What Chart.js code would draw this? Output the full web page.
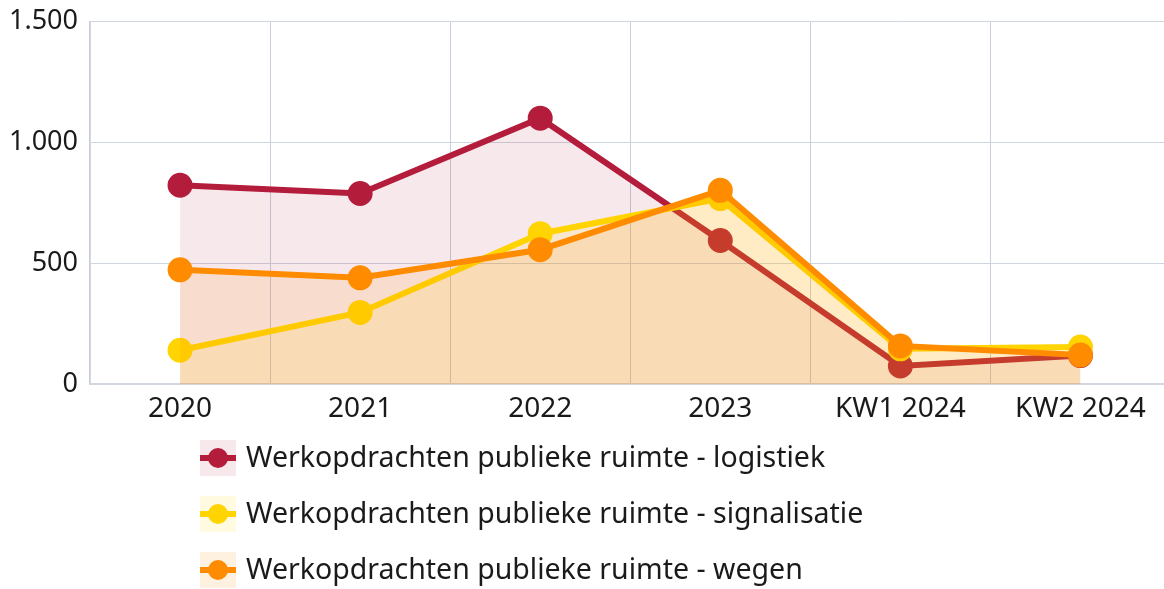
<!DOCTYPE html>
<html lang="nl">
<head>
<meta charset="utf-8">
<title>Werkopdrachten publieke ruimte</title>
<script src="https://cdn.jsdelivr.net/npm/chart.js@4/dist/chart.umd.min.js"></script>
<style>
    html, body { margin: 0; padding: 0; background: #fff; overflow: hidden; }
    canvas { display: block; }
</style>
</head>
<body>
<canvas id="myChart" width="1186" height="589"></canvas>
<script>
const categories = ['2020', '2021', '2022', '2023', 'KW1 2024', 'KW2 2024'];
const logistiek = [822, 788, 1099, 594, 76, 119];
const signalisatie = [141, 297, 622, 767, 147, 154];
const wegen = [473, 440, 556, 801, 159, 121];
const yTicks = [0, 500, 1000, 1500];

const seriesNames = [
    'Werkopdrachten publieke ruimte - logistiek',
    'Werkopdrachten publieke ruimte - signalisatie',
    'Werkopdrachten publieke ruimte - wegen'
];

const FONT = "'Noto Sans', 'Open Sans', sans-serif";

// dot as thousands separator, like 1.500
function formatNumber(v) {
    return String(v).replace(/\B(?=(\d{3})+(?!\d))/g, '.');
}

function makeDataset(label, data, color, fill, order) {
    return {
        label: label,
        data: data,
        borderColor: color,
        backgroundColor: fill,
        pointBackgroundColor: color,
        pointBorderColor: color,
        borderWidth: 6,
        pointRadius: 9.5,
        pointHoverRadius: 9.5,
        tension: 0,
        fill: 'origin',
        order: order
    };
}

// legend drawn under the plot, one series per row
const sideLegend = {
    id: 'sideLegend',
    afterDraw(chart) {
        const ctx = chart.ctx;
        const x0 = 200;
        const rows = [458, 514, 570];
        ctx.save();
        chart.data.datasets.forEach((ds, i) => {
            const y = rows[i];
            ctx.fillStyle = ds.backgroundColor;
            ctx.fillRect(x0, y - 18, 36, 36);
            ctx.strokeStyle = ds.borderColor;
            ctx.lineWidth = 6;
            ctx.beginPath();
            ctx.moveTo(x0, y);
            ctx.lineTo(x0 + 36, y);
            ctx.stroke();
            ctx.fillStyle = ds.borderColor;
            ctx.beginPath();
            ctx.arc(x0 + 18, y, 10, 0, Math.PI * 2);
            ctx.fill();
            ctx.fillStyle = '#1a1a1a';
            ctx.font = '28.5px ' + FONT;
            ctx.textBaseline = 'middle';
            ctx.textAlign = 'left';
            ctx.fillText(ds.label, x0 + 46, y + 1);
        });
        ctx.restore();
    }
};

const ctx = document.getElementById('myChart').getContext('2d');
new Chart(ctx, {
    type: 'line',
    data: {
        labels: categories,
        datasets: [
            makeDataset(seriesNames[0], logistiek, '#b41c3c', 'rgba(180, 28, 60, 0.1)', 2),
            makeDataset(seriesNames[1], signalisatie, '#ffd400', 'rgba(255, 212, 0, 0.12)', 1),
            makeDataset(seriesNames[2], wegen, '#ff8c00', 'rgba(255, 140, 0, 0.12)', 0)
        ]
    },
    options: {
        responsive: false,
        animation: false,
        layout: {
            padding: { top: 0, right: 0, bottom: 155, left: 0 }
        },
        scales: {
            x: {
                offset: true,
                grid: {
                    offset: true,
                    color: '#c8cfda',
                    lineWidth: 1,
                    drawTicks: false
                },
                border: { color: '#d3d8e0', width: 2 },
                ticks: {
                    color: '#1a1a1a',
                    padding: 8,
                    maxRotation: 0,
                    autoSkip: false,
                    font: { family: FONT, size: 28 }
                }
            },
            y: {
                min: 0,
                max: 1500,
                afterBuildTicks(axis) {
                    axis.ticks = yTicks.map(v => ({ value: v }));
                },
                afterFit(axis) {
                    axis.width = 90;
                    axis.paddingTop = 21;
                },
                grid: {
                    color: '#cfd5df',
                    lineWidth: 1,
                    drawTicks: false
                },
                border: { color: '#d3d8e0', width: 1 },
                ticks: {
                    color: '#1a1a1a',
                    padding: 12,
                    font: { family: FONT, size: 27 },
                    callback: v => formatNumber(v)
                }
            }
        },
        plugins: {
            legend: { display: false },
            tooltip: { enabled: false }
        }
    },
    plugins: [sideLegend]
});
</script>
</body>
</html>
